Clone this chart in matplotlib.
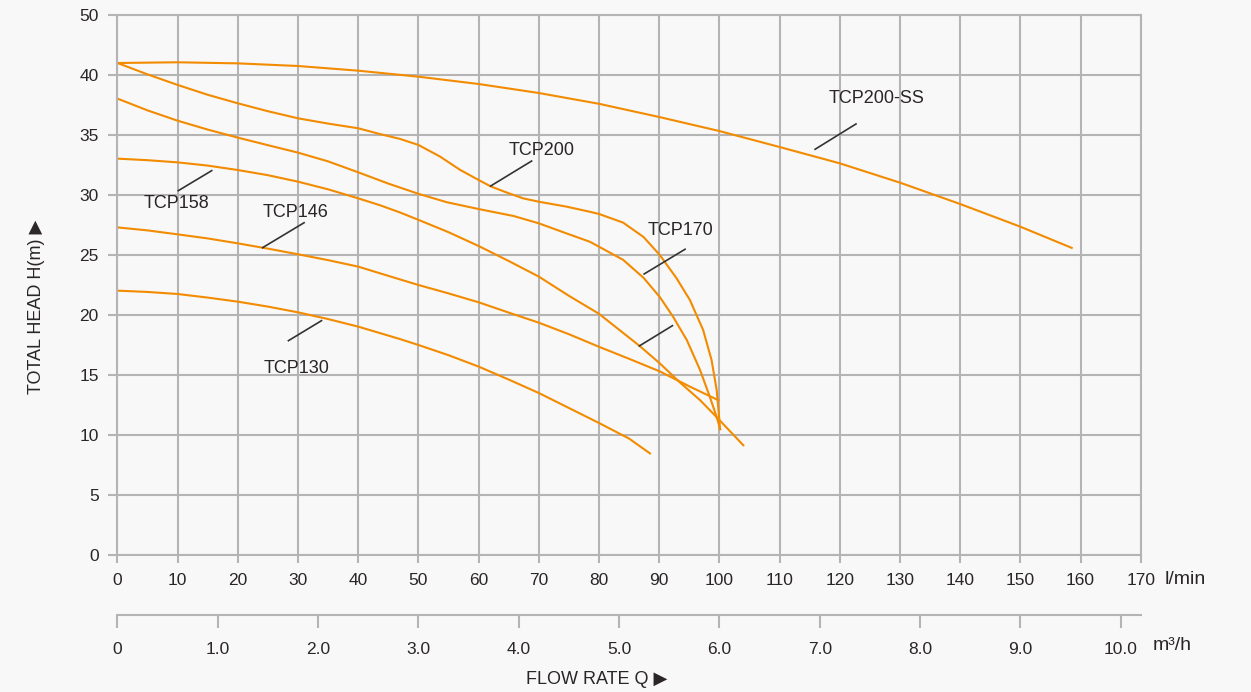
import matplotlib
matplotlib.use("Agg")
import matplotlib.pyplot as plt

plt.rcParams["font.family"] = ["Liberation Sans", "DejaVu Sans"]

# ---- pump performance curves (flow in l/min, head in m) ----
tcp200ss_q = [0, 10, 20, 30, 40, 50, 60, 70, 80, 90, 100, 110, 120, 130, 140, 150, 158.7]
tcp200ss_h = [41.0, 41.06, 40.97, 40.75, 40.36, 39.86, 39.25, 38.5, 37.6, 36.5, 35.33,
              34.0, 32.64, 31.03, 29.25, 27.36, 25.56]

tcp200_q = [0, 5, 10, 15, 20, 25, 30, 35, 40, 43.6, 46.9, 50, 53.6, 56.9, 60, 62, 64.7,
            67.4, 70, 74.6, 78.5, 80, 84, 87.4, 90.1, 92.9, 95.1, 97.3, 98.7, 99.55, 100, 100.1]
tcp200_h = [41.0, 40.05, 39.17, 38.35, 37.64, 36.98, 36.39, 35.95, 35.56, 35.08, 34.68,
            34.17, 33.2, 32.1, 31.25, 30.72, 30.2, 29.72, 29.44, 29.03, 28.6, 28.42, 27.7,
            26.5, 25.0, 23.05, 21.25, 18.75, 16.25, 13.75, 11.25, 10.4]

tcp170_q = [0, 5, 10, 15, 20, 25, 30, 35, 40, 45, 50, 54.7, 60, 65.8, 70, 74.6, 78.5, 84,
            87.4, 90.1, 92.3, 94.6, 96.8, 98.4, 99.55, 100.2]
tcp170_h = [38.03, 37.05, 36.19, 35.45, 34.78, 34.15, 33.53, 32.8, 31.89, 30.95, 30.1,
            29.4, 28.83, 28.25, 27.64, 26.8, 26.1, 24.6, 23.1, 21.5, 19.86, 17.9, 15.4,
            13.2, 11.5, 10.4]

tcp158_q = [0, 5, 10, 15, 20, 25, 30, 35, 40, 43.6, 46.9, 50, 55, 60, 65, 70, 75, 80,
            86.8, 90.1, 93.4, 96.8, 100, 104.1]
tcp158_h = [33.03, 32.9, 32.72, 32.45, 32.08, 31.65, 31.11, 30.47, 29.72, 29.15, 28.55,
            27.93, 26.9, 25.75, 24.5, 23.2, 21.6, 20.1, 17.4, 15.97, 14.4, 12.9, 11.25, 9.08]

tcp146_q = [0, 5, 10, 15, 20, 25, 30, 35, 40, 46.9, 50, 55, 60, 65, 70, 75, 80, 85,
            90.1, 95.1, 100]
tcp146_h = [27.3, 27.05, 26.72, 26.38, 25.97, 25.53, 25.06, 24.57, 24.03, 22.97, 22.5,
            21.8, 21.06, 20.2, 19.36, 18.4, 17.35, 16.35, 15.3, 14.03, 12.86]

tcp130_q = [0, 5, 10, 15, 20, 25, 30, 35, 40, 46.9, 50, 55, 60, 65, 70, 75, 80, 85, 88.6]
tcp130_h = [22.03, 21.92, 21.75, 21.45, 21.11, 20.7, 20.22, 19.66, 19.03, 18.0, 17.5,
            16.65, 15.7, 14.62, 13.5, 12.25, 11.0, 9.7, 8.42]

flow_ticks = list(range(0, 171, 10))
head_ticks = [0, 5, 10, 15, 20, 25, 30, 35, 40, 45]
head_labels = ["0", "5", "10", "15", "20", "25", "30", "35", "40", "50"]
m3h_ticks = [0, 1, 2, 3, 4, 5, 6, 7, 8, 9, 10]
m3h_labels = ["0", "1.0", "2.0", "3.0", "4.0", "5.0", "6.0", "7.0", "8.0", "9.0", "10.0"]

curves = [
    ("TCP200-SS", tcp200ss_q, tcp200ss_h),
    ("TCP200", tcp200_q, tcp200_h),
    ("TCP170", tcp170_q, tcp170_h),
    ("TCP158", tcp158_q, tcp158_h),
    ("TCP146", tcp146_q, tcp146_h),
    ("TCP130", tcp130_q, tcp130_h),
]

# label text position and leader line (both in l/min, m)
labels = [
    ("TCP200-SS", (126.1, 38.03), ((115.9, 33.81), (122.7, 35.92))),
    ("TCP200", (70.5, 33.7), ((62.0, 30.75), (68.8, 32.83))),
    ("TCP170", (93.5, 27.03), ((87.5, 23.42), (94.3, 25.48))),
    ("TCP158", (9.77, 29.25), ((10.1, 30.36), (15.65, 32.03))),
    ("TCP146", (29.6, 28.56), ((24.1, 25.61), (31.0, 27.69))),
    ("TCP130", (29.77, 15.56), ((28.4, 17.86), (33.9, 19.53))),
    ("", None, ((86.7, 17.42), (92.2, 19.11))),
]

BG = "#f8f8f8"
GRID = "#b4b4b4"
ORANGE = "#f38b00"
TEXT = "#2a2526"
W, H = 1251, 692

fig = plt.figure(figsize=(W / 100, H / 100), dpi=100, facecolor=BG)
left, right, bottom, top = 117.5, 1140.7, 555, 15
ax = fig.add_axes([left / W, (H - bottom) / H, (right - left) / W, (bottom - top) / H])
ax.set_facecolor(BG)
ax.set_xlim(0, 170)
ax.set_ylim(0, 45)

ax.set_xticks(flow_ticks)
ax.set_xticklabels([str(v) for v in flow_ticks])
ax.set_yticks(head_ticks)
ax.set_yticklabels(head_labels)
ax.grid(True, color=GRID, linewidth=1.5)
ax.set_axisbelow(True)
for s in ax.spines.values():
    s.set_color(GRID)
    s.set_linewidth(1.5)
ax.tick_params(axis="both", colors=GRID, width=1.5, labelcolor=TEXT, labelsize=12.5)
ax.tick_params(axis="x", length=6, pad=7)
ax.tick_params(axis="y", length=6.5, pad=7)

for name, q, h in curves:
    ax.plot(q, h, color=ORANGE, linewidth=1.5, solid_capstyle="butt",
            solid_joinstyle="round", clip_on=False)

for text, pos, (p0, p1) in labels:
    ax.plot([p0[0], p1[0]], [p0[1], p1[1]], color="#333333", linewidth=1.2)
    if text:
        ax.text(pos[0], pos[1], text, ha="center", va="center", fontsize=13, color=TEXT)

# second flow scale in m³/h
ax2_y = 615
ax2 = fig.add_axes([left / W, (H - ax2_y) / H, (right - left) / W, 0.0001])
ax2.set_facecolor("none")
ax2.set_xlim(0, 170 * 60 / 1000)
ax2.set_ylim(0, 1)
ax2.set_yticks([])
ax2.set_xticks(m3h_ticks)
ax2.set_xticklabels(m3h_labels)
for k in ("left", "right", "top"):
    ax2.spines[k].set_visible(False)
ax2.spines["bottom"].set_color(GRID)
ax2.spines["bottom"].set_linewidth(1.5)
ax2.tick_params(axis="x", colors=GRID, width=1.5, length=9.5, pad=10,
                labelcolor=TEXT, labelsize=12.5)

fig.text(1165 / W, 1 - 579 / H, "l/min", ha="left", va="center", fontsize=14, color=TEXT)
fig.text(1153 / W, 1 - 645 / H, "m³/h", ha="left", va="center", fontsize=14, color=TEXT)
fig.text(597 / W, 1 - 679 / H, "FLOW RATE Q ▶", ha="center", va="center", fontsize=13, color=TEXT)
fig.text(37 / W, 1 - 307 / H, "TOTAL HEAD H(m) ▶", ha="center", va="center",
         rotation=90, fontsize=13, color=TEXT)

fig.savefig("out.png", dpi=100, facecolor=BG)
